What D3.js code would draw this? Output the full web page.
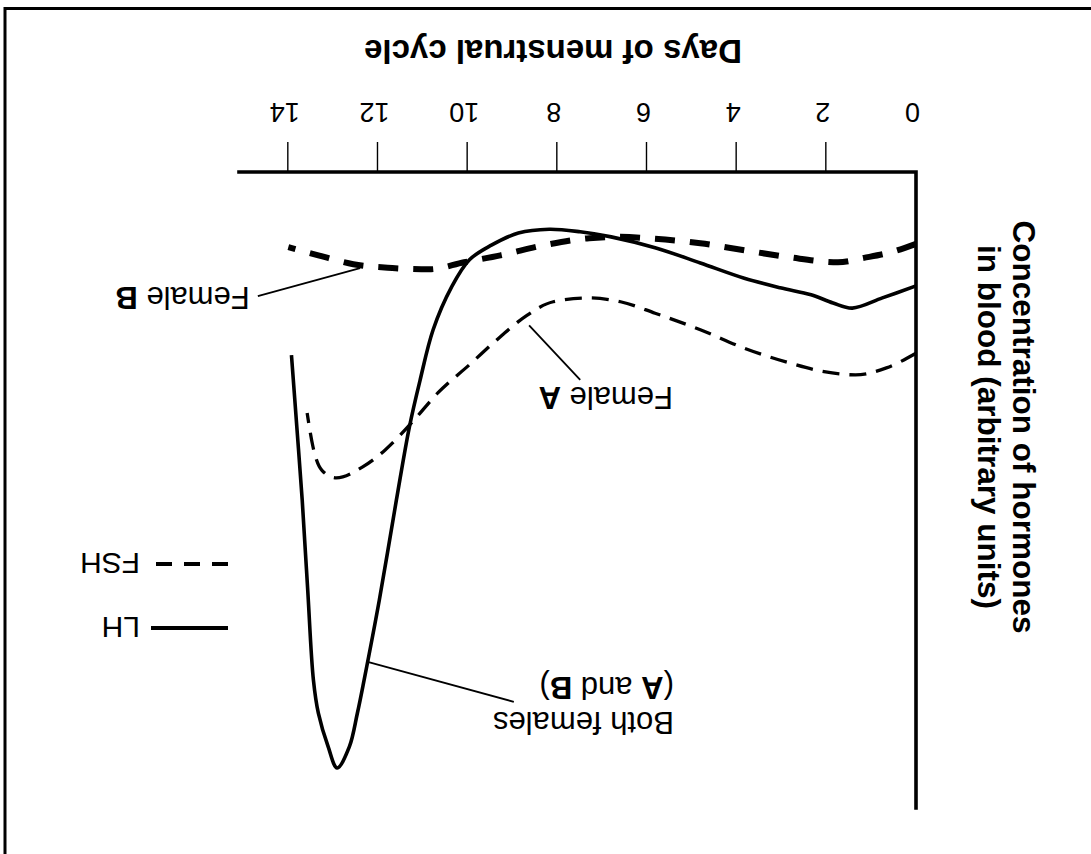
<!DOCTYPE html>
<html>
<head>
<meta charset="utf-8">
<script src="https://cdn.jsdelivr.net/npm/d3@7"></script>
<style>
  body { margin: 0; background: #fff; }
  svg text { font-family: "Liberation Sans", Arial, Helvetica, sans-serif !important; fill: #000; }
</style>
</head>
<body>
<svg id="chart" width="1091" height="854"></svg>
<script>
// ---- data (days of cycle, hormone concentration in arbitrary units) ----
const tickDays = [0, 2, 4, 6, 8, 10, 12, 14];

// LH (both females A and B)
const lhDay   = [0, 0.75, 1.42, 1.85, 2.34, 3.03, 3.83, 4.81, 5.82, 6.80, 7.49, 8.18, 8.87, 9.47, 9.96, 10.36, 10.77, 11.06, 11.30, 11.59, 11.97, 12.31, 12.46, 12.64, 12.91, 13.11, 13.33, 13.44, 13.57, 13.69, 13.81, 13.93];
const lhValue = [17.9, 19.8, 21.4, 20.6, 19.3, 18.2, 16.7, 14.3, 11.9, 10.2, 9.4, 9.0, 9.6, 11.5, 13.8, 18.1, 24.8, 32.7, 40.1, 51.6, 67.3, 79.9, 85.1, 90.4, 93.7, 90.4, 85.1, 79.9, 65.4, 51.6, 40.1, 28.8];

// FSH female A
const fshADay   = [0, 0.66, 1.35, 2.05, 2.83, 3.83, 4.81, 5.82, 6.59, 7.29, 8.09, 8.67, 9.27, 9.96, 10.66, 11.26, 11.84, 12.35, 12.93, 13.25, 13.45, 13.58];
const fshAValue = [28.5, 30.8, 31.9, 31.4, 30.0, 27.7, 24.8, 22.2, 20.4, 19.8, 20.4, 22.5, 25.9, 30.3, 34.7, 39.5, 43.7, 46.4, 48.1, 46.9, 43.2, 37.9];

// FSH female B
const fshBDay   = [0, 0.55, 1.16, 1.74, 2.83, 3.83, 4.81, 5.82, 6.59, 7.29, 8.29, 9.27, 10.08, 10.86, 11.68, 12.55, 13.33, 14.0];
const fshBValue = [11.3, 12.6, 13.5, 14.2, 13.4, 12.3, 11.2, 10.5, 10.2, 10.4, 11.5, 13.1, 14.2, 15.3, 15.1, 14.5, 13.1, 11.8];

// annotations (data units): label position, leader start, leader end on the curve
const annFemaleB = { day: 14.86, value: 18.1, from: [14.68, 19.5], to: [12.40, 15.1] };
const annFemaleA = { day: 5.42, value: 33.8, from: [7.49, 32.7], to: [8.63, 24.1] };
const annBoth    = { day: 5.40, value: 84.9, value2: 79.4, from: [8.97, 83.3], to: [12.25, 77.0] };

// ---- drawing ----
const W = 1091, H = 854;
const svg = d3.select("#chart");
// the whole figure is shown upside-down (rotated 180 degrees)
const g = svg.append("g").attr("transform", `rotate(180 ${W / 2} ${H / 2})`);

const x = d3.scaleLinear().domain([0, 15.1]).range([175, 852]);
const y = d3.scaleLinear().domain([0, 100]).range([682, 46]);

// frame (partial border)
g.append("path")
  .attr("d", `M0,845.5 H1086 V0`)
  .attr("fill", "none").attr("stroke", "#000").attr("stroke-width", 3);

// x axis with ticks
const xAxis = d3.axisBottom(x).tickValues(tickDays).tickSize(30).tickPadding(20).tickFormat(d3.format("d"));
const xg = g.append("g").attr("transform", `translate(0,${y(0)})`).call(xAxis);
xg.attr("font-family", null);
xg.select(".domain").remove();
xg.selectAll(".tick line").attr("stroke", "#000").attr("stroke-width", 1.4)
  .filter(d => d === 0).remove();
xg.selectAll(".tick text").attr("font-size", 27).attr("dx", 3);

// axis lines
g.append("path")
  .attr("d", `M${x(0)},${y(100)} V${y(0)} H${x(15.1)}`)
  .attr("fill", "none").attr("stroke", "#000").attr("stroke-width", 3.6)
  .attr("stroke-linejoin", "miter").attr("stroke-linecap", "square");

// axis titles
g.append("text").attr("x", 538).attr("y", 814)
  .attr("text-anchor", "middle").attr("font-size", 33).attr("font-weight", "bold")
  .text("Days of menstrual cycle");
const yt = g.append("text").attr("transform", `translate(78,427) rotate(-90)`)
  .attr("text-anchor", "middle").attr("font-size", 31.5).attr("font-weight", "bold");
yt.append("tspan").attr("x", 0).attr("y", 0).text("Concentration of hormones");
yt.append("tspan").attr("x", 0).attr("y", 35).text("in blood (arbitrary units)");

// curves
const zip = (a, b) => a.map((d, i) => [d, b[i]]);
const smooth = d3.line().x(d => x(d[0])).y(d => y(d[1])).curve(d3.curveMonotoneX);
const spline = d3.line().x(d => x(d[0])).y(d => y(d[1])).curve(d3.curveCatmullRom.alpha(0.5));

g.append("path").datum(zip(fshADay, fshAValue)).attr("d", smooth)
  .attr("fill", "none").attr("stroke", "#000").attr("stroke-width", 3.3)
  .attr("stroke-dasharray", "17,10");

g.append("path").datum(zip(fshBDay, fshBValue)).attr("d", smooth)
  .attr("fill", "none").attr("stroke", "#000").attr("stroke-width", 6)
  .attr("stroke-dasharray", "20,15");

g.append("path").datum(zip(lhDay, lhValue)).attr("d", spline)
  .attr("fill", "none").attr("stroke", "#000").attr("stroke-width", 3.6)
  .attr("stroke-linejoin", "round");

// annotations
function leader(a) {
  g.append("line")
    .attr("x1", x(a.from[0])).attr("y1", y(a.from[1]))
    .attr("x2", x(a.to[0])).attr("y2", y(a.to[1]))
    .attr("stroke", "#000").attr("stroke-width", 1.8);
}
leader(annFemaleB); leader(annFemaleA); leader(annBoth);

const annSize = 31;
const tB = g.append("text").attr("x", x(annFemaleB.day)).attr("y", y(annFemaleB.value)).attr("font-size", annSize);
tB.append("tspan").text("Female ");
tB.append("tspan").attr("font-weight", "bold").text("B");

const tA = g.append("text").attr("x", x(annFemaleA.day)).attr("y", y(annFemaleA.value)).attr("font-size", annSize);
tA.append("tspan").text("Female ");
tA.append("tspan").attr("font-weight", "bold").text("A");

g.append("text").attr("x", x(annBoth.day)).attr("y", y(annBoth.value)).attr("font-size", annSize).text("Both females");
const tAB = g.append("text").attr("x", x(annBoth.day)).attr("y", y(annBoth.value2)).attr("font-size", annSize);
tAB.append("tspan").text("(");
tAB.append("tspan").attr("font-weight", "bold").text("A");
tAB.append("tspan").text(" and ");
tAB.append("tspan").attr("font-weight", "bold").text("B");
tAB.append("tspan").text(")");

// legend
const legend = g.append("g").attr("transform", "translate(863,0)");
legend.append("line").attr("x1", 0).attr("x2", 77).attr("y1", 226).attr("y2", 226)
  .attr("stroke", "#000").attr("stroke-width", 4);
legend.append("text").attr("x", 88).attr("y", 237).attr("font-size", 30).text("LH");
legend.append("line").attr("x1", 0).attr("x2", 72).attr("y1", 290).attr("y2", 290)
  .attr("stroke", "#000").attr("stroke-width", 4).attr("stroke-dasharray", "16,12");
legend.append("text").attr("x", 88).attr("y", 301).attr("font-size", 30).text("FSH");
</script>
</body>
</html>
